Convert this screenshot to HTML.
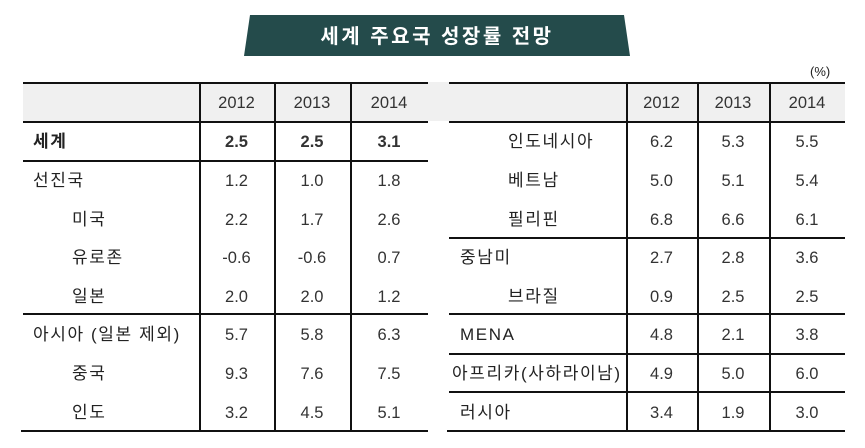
<!DOCTYPE html>
<html><head><meta charset="utf-8">
<style>
body{margin:0;width:865px;height:448px;background:#fff;position:relative;overflow:hidden;font-family:"Liberation Sans","Noto Sans CJK KR",sans-serif;color:#222}
.a{position:absolute}
.hl{position:absolute;height:1.5px;background:#111}
.vl{position:absolute;width:1.5px;background:#111}
.t{position:absolute;font-size:17px;line-height:20px;white-space:nowrap;letter-spacing:1.6px;font-family:"Liberation Sans","Noto Sans CJK KR",sans-serif}
.n{position:absolute;font-size:16.5px;line-height:20px;text-align:center;white-space:nowrap;color:#333}
</style></head><body>
<svg class="a" style="left:0;top:0" width="865" height="60">
<polygon points="250,15 624,15 630,56 244,56" fill="#244b4b"/>
<text x="437" y="43" text-anchor="middle" fill="#fff" font-size="20" font-weight="bold" letter-spacing="2.5" font-family="Liberation Sans, Noto Sans CJK KR, sans-serif">세계 주요국 성장률 전망</text>
</svg>
<div class="t" style="left:810px;top:62px;font-size:13px;letter-spacing:0">(%)</div>
<div class="a" style="left:23px;top:82px;width:822px;height:39px;background:#f0f0f0"></div>
<script>
const years=["2012","2013","2014"];
const leftLabels=["세계","선진국","미국","유로존","일본","아시아 (일본 제외)","중국","인도"];
const leftIndent=[0,0,1,1,1,0,1,1];
const leftV2012=["2.5","1.2","2.2","-0.6","2.0","5.7","9.3","3.2"];
const leftV2013=["2.5","1.0","1.7","-0.6","2.0","5.8","7.6","4.5"];
const leftV2014=["3.1","1.8","2.6","0.7","1.2","6.3","7.5","5.1"];
const rightLabels=["인도네시아","베트남","필리핀","중남미","브라질","MENA","아프리카(사하라이남)","러시아"];
const rightIndent=[1,1,1,0,1,0,-1,0];
const rightV2012=["6.2","5.0","6.8","2.7","0.9","4.8","4.9","3.4"];
const rightV2013=["5.3","5.1","6.6","2.8","2.5","2.1","5.0","1.9"];
const rightV2014=["5.5","5.4","6.1","3.6","2.5","3.8","6.0","3.0"];
const root=document.body;
function add(cls,style,text,name){
  const el=document.createElement('div');
  el.className=cls;el.style.cssText=style;
  if(text!==undefined)el.textContent=text;
  
  
  root.appendChild(el);return el;
}
const rowTop=121,rowH=38.6;
function table(side,x0,x1,cols,labels,indent,v1,v2,v3,lines,indentX){
  add('hl',`left:${x0}px;top:82px;width:${x1-x0}px`,undefined,side+'-top-rule');
  add('hl',`left:${x0}px;top:121px;width:${x1-x0}px`,undefined,side+'-header-rule');
  add('hl',`left:${x0-2}px;top:430px;width:${x1-x0+2}px`,undefined,side+'-bottom-rule');
  lines.forEach(y=>add('hl',`left:${x0}px;top:${y}px;width:${x1-x0}px`,undefined,side+'-group-rule'));
  cols.slice(0,3).forEach(cx=>add('vl',`left:${cx}px;top:82px;height:349px`,undefined,side+'-column-rule'));
  const edges=[cols[0],cols[1],cols[2],x1];
  years.forEach((y,i)=>add('n',`left:${edges[i]}px;width:${edges[i+1]-edges[i]}px;top:93px`,y,side+'-header-'+y));
  const vals=[v1,v2,v3];
  labels.forEach((lab,r)=>{
    const cy=rowTop+rowH*(r+0.5)-8;
    const bold=(side==='left'&&r===0)?'font-weight:bold;':'';
    add('t',`left:${indentX[indent[r]+1]}px;top:${cy}px;${bold}`,lab,side+'-row-label');
    vals.forEach((arr,i)=>add('n',`left:${edges[i]}px;width:${edges[i+1]-edges[i]}px;top:${cy}px;${bold}`,arr[r],side+'-value-'+years[i]));
  });
}
table('left',23,428,[199,274,350],leftLabels,leftIndent,leftV2012,leftV2013,leftV2014,[160,313],[33,33,72]);
table('right',449,845,[626,697,769],rightLabels,rightIndent,rightV2012,rightV2013,rightV2014,[237,313,353,391],[452,460,508]);
</script>
</body></html>
